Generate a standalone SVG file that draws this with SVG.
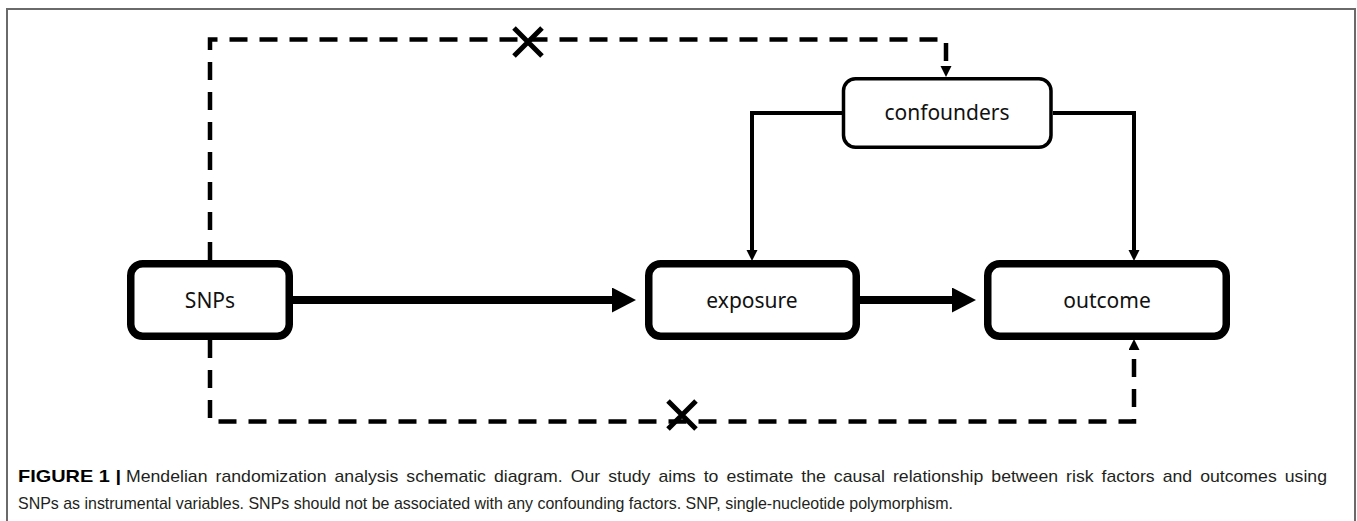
<svg xmlns="http://www.w3.org/2000/svg" width="1357" height="521" viewBox="0 0 1357 521">
<style>
.frame{fill:none;stroke:#6a6a6a;stroke-width:2}
.box{fill:#fff;stroke:#000;stroke-width:7.5}
.cbox{fill:#fff;stroke:#000;stroke-width:3.5}
.lbl{font-family:"Noto Sans","Open Sans",sans-serif;font-size:21px;fill:#111;text-anchor:middle}
.main{fill:none;stroke:#000;stroke-width:8}
.thin{fill:none;stroke:#000;stroke-width:4}
.dash{fill:none;stroke:#000;stroke-width:4.5;stroke-dasharray:18 12}
.xmark{stroke:#000;stroke-width:5}
.cap{font-family:"Liberation Sans",Arial,sans-serif;font-size:17px;fill:#231f20}
.capb{font-weight:bold;fill:#000}
</style>
<defs>
<marker id="big" markerUnits="userSpaceOnUse" markerWidth="24" markerHeight="26" refX="0" refY="12.5" orient="auto">
<path d="M0,0 L24,12.5 L0,25 z" fill="#000"/>
</marker>
<marker id="small" markerUnits="userSpaceOnUse" markerWidth="12" markerHeight="12" refX="0" refY="5.5" orient="auto">
<path d="M0,0 L11,5.5 L0,11 z" fill="#000"/>
</marker>
</defs>
<rect class="frame" x="7" y="9" width="1348" height="530"/>
<g id="connectors">
<path class="dash" d="M210,260 V39.5 H946 V66" marker-end="url(#small)"/>
<path class="dash" d="M210,340 V421.5 H1134 V350" marker-end="url(#small)"/>
<path class="thin" d="M842,113 H752 V250" marker-end="url(#small)"/>
<path class="thin" d="M1053,113 H1134 V250" marker-end="url(#small)"/>
<path class="main" d="M293,300 H612" marker-end="url(#big)"/>
<path class="main" d="M860,300 H952" marker-end="url(#big)"/>
<g id="x-top"><path class="xmark" d="M514,28 L542,56 M542,28 L514,56"/></g>
<g id="x-bottom"><path class="xmark" d="M668,401 L696,429 M696,401 L668,429"/></g>
</g>
<g id="snps">
<rect class="box" x="130.75" y="263.75" width="158.5" height="72.5" rx="12"/>
<text class="lbl" x="210" y="308">SNPs</text>
</g>
<g id="exposure">
<rect class="box" x="648.75" y="263.75" width="207.5" height="72.5" rx="12"/>
<text class="lbl" x="752" y="308">exposure</text>
</g>
<g id="outcome">
<rect class="box" x="987.75" y="263.75" width="238.5" height="72.5" rx="12"/>
<text class="lbl" x="1107" y="308">outcome</text>
</g>
<g id="confounders">
<rect class="cbox" x="843.5" y="78.8" width="207.5" height="68.5" rx="12"/>
<text class="lbl" x="947" y="120">confounders</text>
</g>
<g id="caption">
<text class="cap capb" x="18" y="482" textLength="103" lengthAdjust="spacingAndGlyphs">FIGURE 1 |</text>
<text class="cap" x="126" y="482" textLength="1201" lengthAdjust="spacingAndGlyphs" style="word-spacing:3px">Mendelian randomization analysis schematic diagram. Our study aims to estimate the causal relationship between risk factors and outcomes using</text>
<text class="cap" x="18" y="509" textLength="935" lengthAdjust="spacingAndGlyphs">SNPs as instrumental variables. SNPs should not be associated with any confounding factors. SNP, single-nucleotide polymorphism.</text>
</g>
</svg>
